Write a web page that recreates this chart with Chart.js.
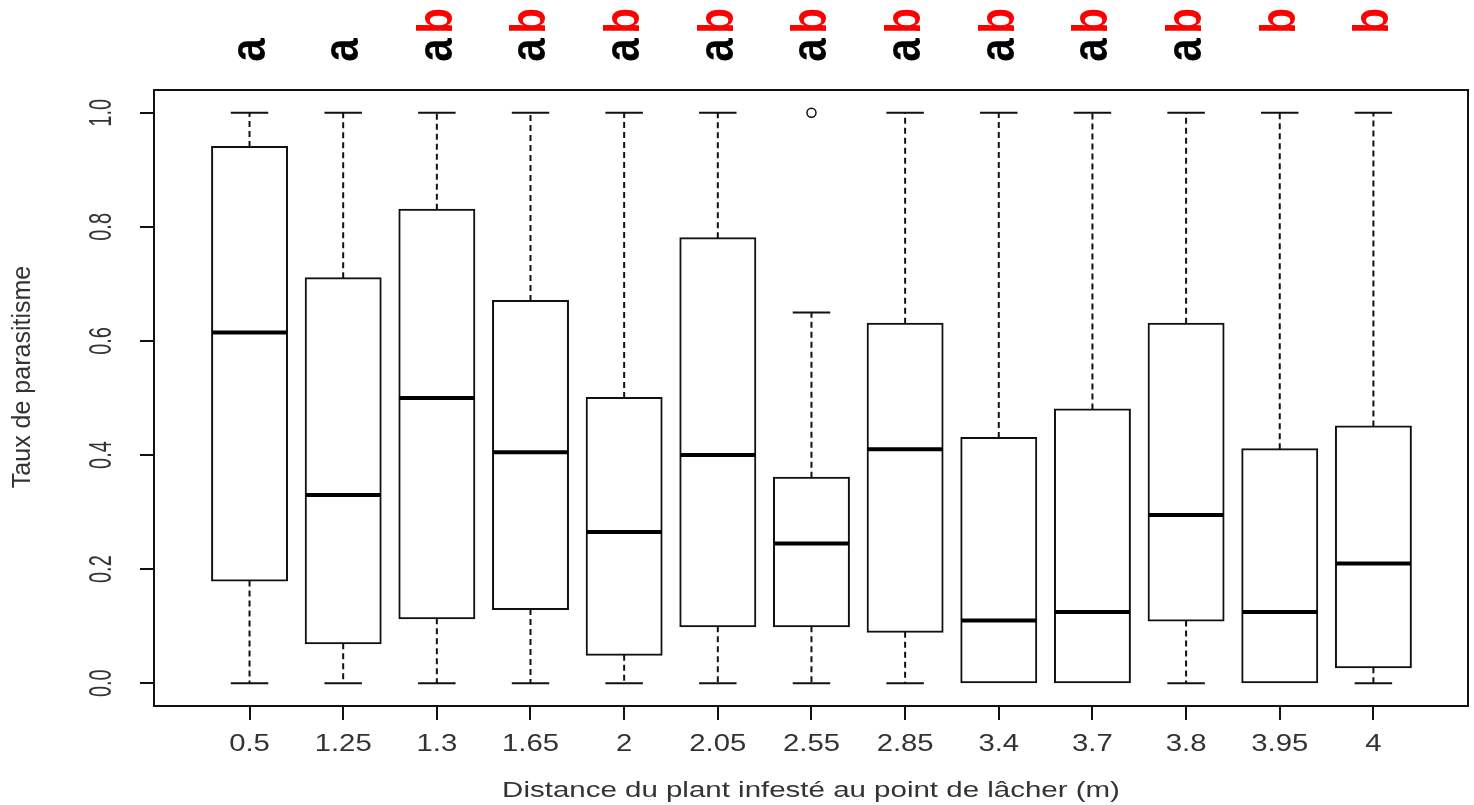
<!DOCTYPE html>
<html>
<head>
<meta charset="utf-8">
<script src="https://cdn.jsdelivr.net/npm/chart.js@4.4.1/dist/chart.umd.min.js"></script>
<style>
  html, body { margin: 0; padding: 0; background: #fff; }
  #wrap { width: 1474px; height: 805px; }
</style>
</head>
<body>
<div id="wrap"><canvas id="c" width="1474" height="805"></canvas></div>
<script>
// Distance classes (m) and box statistics of the parasitism rate
const distances   = ['0.5', '1.25', '1.3', '1.65', '2', '2.05', '2.55', '2.85', '3.4', '3.7', '3.8', '3.95', '4'];
const whiskerLow  = [0, 0, 0, 0, 0, 0, 0, 0, 0, 0, 0, 0, 0];
const quartile1   = [0.18, 0.07, 0.114, 0.13, 0.05, 0.10, 0.10, 0.09, 0, 0, 0.11, 0, 0.028];
const medians     = [0.615, 0.33, 0.50, 0.405, 0.265, 0.40, 0.245, 0.41, 0.11, 0.125, 0.295, 0.125, 0.21];
const quartile3   = [0.94, 0.71, 0.83, 0.67, 0.50, 0.78, 0.36, 0.63, 0.43, 0.48, 0.63, 0.41, 0.45];
const whiskerHigh = [1, 1, 1, 1, 1, 1, 0.65, 1, 1, 1, 1, 1, 1];
const outliers    = [[], [], [], [], [], [], [1.0], [], [], [], [], [], []];
// Significance groups written above each box
const groups      = ['a', 'a', 'ab', 'ab', 'ab', 'ab', 'ab', 'ab', 'ab', 'ab', 'ab', 'b', 'b'];
const yTicks      = [0, 0.2, 0.4, 0.6, 0.8, 1.0];
const xTitle = 'Distance du plant infesté au point de lâcher (m)';
const yTitle = 'Taux de parasitisme';

const FONT = '"Liberation Sans", Arial, sans-serif';
const INK = '#111';
const positions = distances.map((d, i) => i + 1);

// helper: list of line segments separated by null points
function segments(build) {
  const out = [];
  positions.forEach((x, i) => {
    const seg = build(x, i);
    if (seg) out.push(...seg, { x, y: null });
  });
  return out;
}

const boxData = positions.map((x, i) => ({ x, y: [quartile1[i], quartile3[i]] }));
const whiskerData = segments((x, i) => quartile3[i] < whiskerHigh[i] ? [{ x, y: quartile3[i] }, { x, y: whiskerHigh[i] }] : null)
  .concat(segments((x, i) => quartile1[i] > whiskerLow[i] ? [{ x, y: quartile1[i] }, { x, y: whiskerLow[i] }] : null));
const capData = segments((x, i) => quartile3[i] < whiskerHigh[i] ? [{ x: x - 0.2, y: whiskerHigh[i] }, { x: x + 0.2, y: whiskerHigh[i] }] : null)
  .concat(segments((x, i) => quartile1[i] > whiskerLow[i] ? [{ x: x - 0.2, y: whiskerLow[i] }, { x: x + 0.2, y: whiskerLow[i] }] : null));
const medianData = segments((x, i) => [{ x: x - 0.4, y: medians[i] }, { x: x + 0.4, y: medians[i] }]);
const outlierData = [];
outliers.forEach((vals, i) => vals.forEach(v => outlierData.push({ x: positions[i], y: v })));

function drawText(ctx, str, x, y, o) {
  ctx.save();
  ctx.translate(x, y);
  ctx.scale(o.sx || 1, 1);
  if (o.rot) ctx.rotate(o.rot);
  ctx.font = o.font;
  ctx.fillStyle = o.color || '#333';
  ctx.textAlign = o.align || 'center';
  ctx.textBaseline = o.baseline || 'alphabetic';
  ctx.fillText(str, 0, 0);
  ctx.restore();
}

const annotations = {
  id: 'boxTexts',
  afterDraw(chart) {
    const { ctx, chartArea: a, scales: { x, y } } = chart;
    ctx.save();
    // plot frame
    ctx.strokeStyle = INK;
    ctx.lineWidth = 2;
    ctx.strokeRect(a.left, a.top, a.right - a.left, a.bottom - a.top);
    ctx.restore();

    // x tick labels
    x.ticks.forEach(t => {
      drawText(ctx, distances[t.value - 1], x.getPixelForValue(t.value), 751,
        { font: '24px ' + FONT, sx: 1.22, color: '#333' });
    });
    // y tick labels, written along the axis
    y.ticks.forEach(t => {
      drawText(ctx, t.value.toFixed(1), 111, y.getPixelForValue(t.value),
        { font: '20px ' + FONT, sx: 1.6, rot: -Math.PI / 2, color: '#333' });
    });
    // axis titles
    drawText(ctx, xTitle, (a.left + a.right) / 2, 797, { font: '22px ' + FONT, sx: 1.34, color: '#333' });
    drawText(ctx, yTitle, 30, 377, { font: '25px ' + FONT, sx: 1.0, rot: -Math.PI / 2, color: '#333' });

    // group letters above the boxes
    groups.forEach((g, i) => {
      const cx = x.getPixelForValue(positions[i]);
      if (g.includes('a')) {
        drawText(ctx, 'a', cx + 15, 50, { font: 'bold 42px ' + FONT, sx: 1.2, rot: -Math.PI / 2, color: '#000' });
      }
      if (g.includes('b')) {
        drawText(ctx, 'b', cx + 15, 21, { font: 'bold 42px ' + FONT, sx: 1.2, rot: -Math.PI / 2, color: '#ff0000' });
      }
    });
  }
};

const tickGrid = { drawOnChartArea: false, drawTicks: true, tickLength: 14, color: INK, lineWidth: 2, offset: false };

new Chart(document.getElementById('c'), {
  type: 'bar',
  data: {
    datasets: [
      { type: 'line', data: whiskerData, borderColor: INK, borderWidth: 2, borderDash: [6, 4],
        pointRadius: 0, spanGaps: false, fill: false, order: 3 },
      { type: 'line', data: capData, borderColor: INK, borderWidth: 2,
        pointRadius: 0, spanGaps: false, fill: false, order: 3 },
      { type: 'bar', data: boxData, backgroundColor: '#fff', borderColor: INK, borderWidth: 2,
        borderSkipped: false, inflateAmount: 1, categoryPercentage: 0.8, barPercentage: 1, order: 2 },
      { type: 'line', data: medianData, borderColor: '#000', borderWidth: 4, borderCapStyle: 'butt',
        pointRadius: 0, spanGaps: false, fill: false, order: 1 },
      { type: 'scatter', data: outlierData, pointRadius: 4.5, pointBackgroundColor: '#fff',
        pointBorderColor: INK, pointBorderWidth: 1.5, order: 0 }
    ]
  },
  options: {
    responsive: false,
    animation: false,
    devicePixelRatio: 1,
    layout: { padding: { top: 90, right: 2, left: 0, bottom: 0 } },
    plugins: { legend: { display: false }, tooltip: { enabled: false } },
    scales: {
      x: {
        type: 'linear', min: -0.02, max: 14.01, offset: false,
        afterBuildTicks: s => { s.ticks = positions.map(v => ({ value: v })); },
        afterFit: s => { s.height = 99; },
        grid: tickGrid,
        border: { display: false },
        ticks: { display: false }
      },
      y: {
        type: 'linear', min: -0.04, max: 1.04,
        afterBuildTicks: s => { s.ticks = yTicks.map(v => ({ value: v })); },
        afterFit: s => { s.width = 154; },
        grid: tickGrid,
        border: { display: false },
        ticks: { display: false }
      }
    }
  },
  plugins: [annotations]
});
</script>
</body>
</html>
